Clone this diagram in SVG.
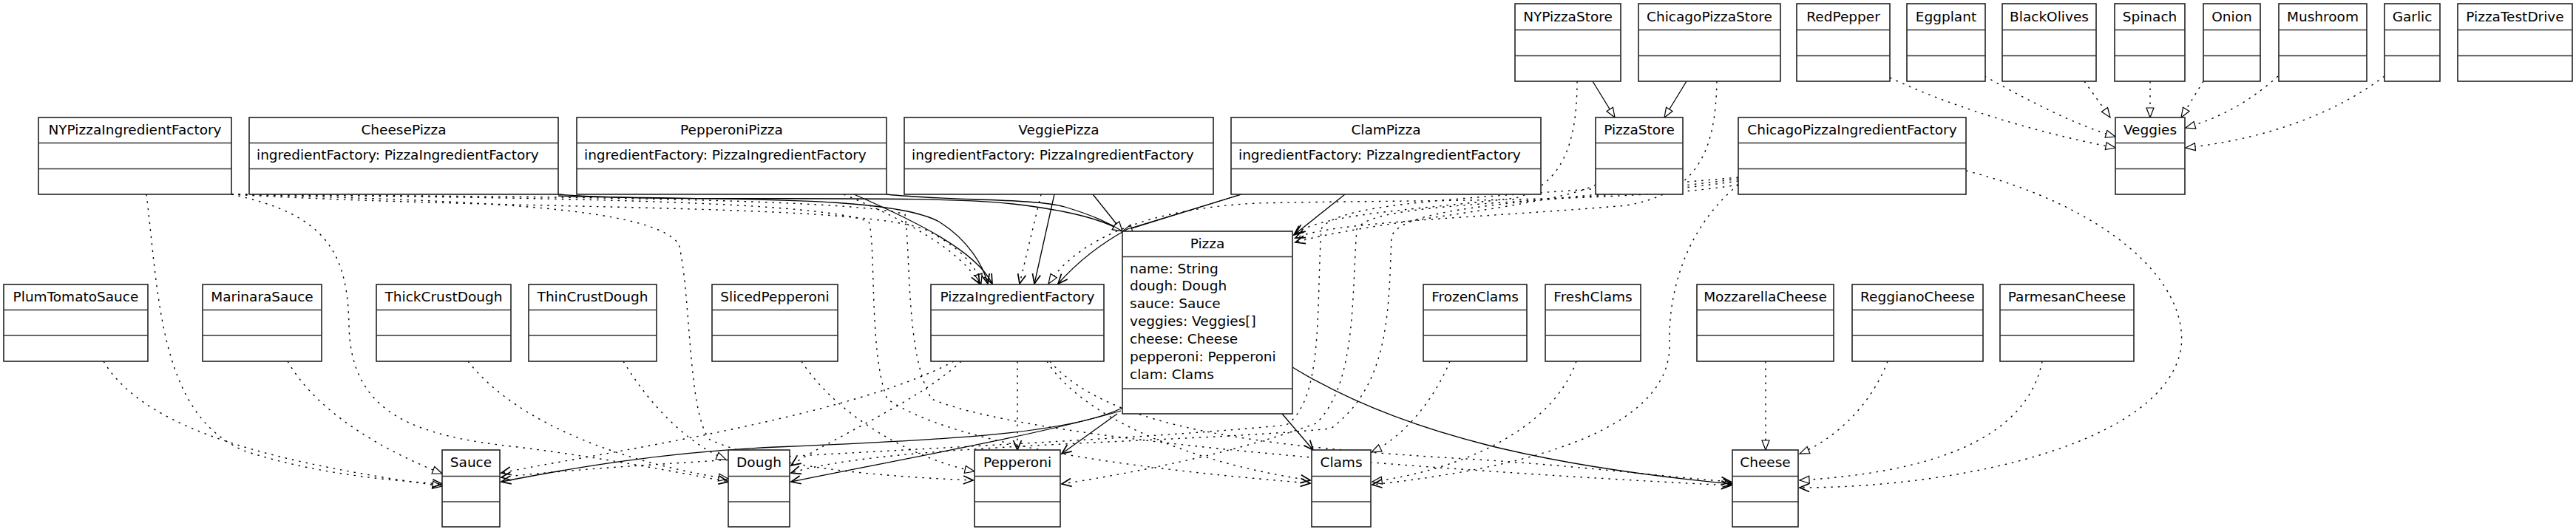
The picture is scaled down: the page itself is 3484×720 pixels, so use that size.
<svg xmlns="http://www.w3.org/2000/svg" width="3484" height="720" viewBox="0 0 3484 720">
<defs>
<style>
.box{fill:#fff;stroke:#222;stroke-width:1.6}
.dv{stroke:#333;stroke-width:1.6}
text{font-family:"DejaVu Sans",Verdana,sans-serif;font-size:18.5px;fill:#000}
.c{text-anchor:middle}
.sol{fill:none;stroke:#000;stroke-width:1.3}
.dot{fill:none;stroke:#000;stroke-width:1.4;stroke-dasharray:2.5 7}
.gen{marker-end:url(#tri)}
.arr{marker-end:url(#open)}
</style>
<marker id="tri" viewBox="0 0 14 12" refX="13" refY="6" markerWidth="14" markerHeight="12" orient="auto" markerUnits="userSpaceOnUse" style="overflow:visible"><path d="M0,1 L13,6 L0,11 z" fill="#fff" stroke="#000" stroke-width="1.2" stroke-dasharray="none"/></marker>
<marker id="open" viewBox="0 0 14 12" refX="13" refY="6" markerWidth="14" markerHeight="12" orient="auto" markerUnits="userSpaceOnUse" style="overflow:visible"><path d="M0,0.5 L13,6 L0,11.5" fill="none" stroke="#000" stroke-width="1.7" stroke-dasharray="none"/></marker>
</defs>
<rect width="3484" height="720" fill="#fff"/>

<g id="connectors">
<!-- generalizations -->
<path class="sol gen" d="M2154,110 L2184,159"/>
<path class="sol gen" d="M2281,110 L2251,159"/>
<path class="sol gen" d="M755,263 C900,275 1250,262 1370,276 C1440,284 1490,296 1518,313"/>
<path class="sol gen" d="M1199,263 C1280,272 1400,268 1440,280 C1480,292 1500,302 1518,313"/>
<path class="sol gen" d="M1478,263 L1518,313"/>
<path class="sol gen" d="M1679,263 L1518,313"/>
<!-- associations -->
<path class="sol arr" d="M755,265 C950,272 1200,262 1270,300 C1310,325 1330,360 1336,384"/>
<path class="sol arr" d="M1155,263 C1240,300 1320,340 1342,384"/>
<path class="sol arr" d="M1426,263 L1399,384"/>
<path class="sol arr" d="M1679,263 L1525,310 Q1470,340 1431,384"/>
<path class="sol arr" d="M1819,263 L1750,318"/>
<path class="sol arr" d="M1518,552 C1450,585 1300,595 1050,605 C900,612 780,632 678,652"/>
<path class="sol arr" d="M1516,556 C1400,590 1200,625 1070,652"/>
<path class="sol arr" d="M1511,560 L1436,614"/>
<path class="sol arr" d="M1734,560 L1776,609"/>
<path class="sol arr" d="M1748,497 C1900,590 2100,632 2343,655"/>
<!-- realizations -->
<path class="dot gen" d="M140,489 C200,590 400,630 598,658"/>
<path class="dot gen" d="M389,489 C430,560 520,610 598,641"/>
<path class="dot gen" d="M633,489 C700,575 850,628 985,648"/>
<path class="dot gen" d="M843,489 C880,550 930,600 982,622"/>
<path class="dot gen" d="M1084,489 C1130,560 1230,620 1318,638"/>
<path class="dot gen" d="M1961,489 C1940,540 1900,590 1855,612"/>
<path class="dot gen" d="M2132,489 C2100,580 1980,635 1856,652"/>
<path class="dot gen" d="M2388,489 L2388,609"/>
<path class="dot gen" d="M2553,489 C2530,550 2480,595 2434,614"/>
<path class="dot gen" d="M2762,489 C2740,600 2600,640 2434,650"/>
<path class="dot gen" d="M313,263 C700,285 1150,275 1250,310 C1300,335 1320,360 1327,384"/>
<path class="dot gen" d="M2351,250 C2200,275 1900,270 1700,275 C1560,282 1460,320 1418,384"/>
<path class="dot gen" d="M2556,105 C2650,150 2780,185 2861,200"/>
<path class="dot gen" d="M2684,103 C2750,140 2810,170 2861,185"/>
<path class="dot gen" d="M2819,110 L2854,159"/>
<path class="dot gen" d="M2908,110 L2908,159"/>
<path class="dot gen" d="M2980,110 L2950,159"/>
<path class="dot gen" d="M3081,103 C3040,140 3000,160 2956,173"/>
<path class="dot gen" d="M3225,103 C3150,160 3050,190 2956,200"/>
<!-- dependencies -->
<path class="dot arr" d="M198,263 C215,400 215,560 330,610 C420,640 520,650 598,655"/>
<path class="dot arr" d="M313,263 C440,290 470,340 472,440 C474,560 560,590 700,605 C820,620 920,640 985,652"/>
<path class="dot arr" d="M313,263 C650,272 880,280 918,330 C935,400 930,560 960,595 C1050,635 1200,645 1316,650"/>
<path class="dot arr" d="M313,263 C700,268 1100,270 1175,300 C1185,330 1175,480 1200,540 C1300,610 1600,640 1772,654"/>
<path class="dot arr" d="M313,263 C700,266 1150,268 1224,290 C1232,350 1225,480 1260,540 C1400,600 2000,640 2341,657"/>
<path class="dot arr" d="M1290,489 C1150,565 800,615 678,640"/>
<path class="dot arr" d="M1300,489 C1240,545 1120,595 1070,630"/>
<path class="dot arr" d="M1376,489 L1376,609"/>
<path class="dot arr" d="M1416,489 C1460,560 1600,625 1772,650"/>
<path class="dot arr" d="M1420,489 C1500,580 1700,605 2000,622 C2150,632 2250,645 2341,652"/>
<path class="dot arr" d="M2659,231 C2850,280 2960,380 2950,470 C2930,600 2650,660 2434,660"/>
<path class="dot arr" d="M2351,250 C2290,300 2255,380 2258,470 C2255,600 2000,640 1856,656"/>
<path class="dot arr" d="M2351,245 C2100,280 1860,270 1835,310 C1828,400 1835,520 1780,573 C1650,620 1500,645 1436,655"/>
<path class="dot arr" d="M2351,242 C2100,275 1900,275 1882,320 C1878,420 1880,520 1800,580 C1600,600 1200,600 1070,640"/>
<path class="dot arr" d="M2351,240 C2050,268 1810,268 1787,310 C1780,420 1790,540 1740,575 C1500,600 900,620 678,646"/>
<path class="dot arr" d="M2133,110 C2133,200 2110,250 2050,268 C1900,285 1790,290 1752,316"/>
<path class="dot arr" d="M2322,110 C2320,200 2300,260 2200,278 C2000,295 1800,300 1752,322"/>
<path class="dot arr" d="M2158,250 C2100,280 1850,300 1752,328"/>
<path class="dot arr" d="M1408,263 L1379,384"/>
<path class="dot arr" d="M1141,263 C1230,300 1300,340 1325,384"/>
</g>

<!-- top row -->
<g id="NYPizzaStore"><rect class="box" x="2049" y="5" width="143" height="105"/><line class="dv" x1="2049" y1="40.5" x2="2192" y2="40.5"/><line class="dv" x1="2049" y1="75.5" x2="2192" y2="75.5"/><text class="c" x="2120.5" y="29">NYPizzaStore</text></g>
<g id="ChicagoPizzaStore"><rect class="box" x="2216" y="5" width="192" height="105"/><line class="dv" x1="2216" y1="40.5" x2="2408" y2="40.5"/><line class="dv" x1="2216" y1="75.5" x2="2408" y2="75.5"/><text class="c" x="2312" y="29">ChicagoPizzaStore</text></g>
<g id="RedPepper"><rect class="box" x="2430" y="5" width="126" height="105"/><line class="dv" x1="2430" y1="40.5" x2="2556" y2="40.5"/><line class="dv" x1="2430" y1="75.5" x2="2556" y2="75.5"/><text class="c" x="2493" y="29">RedPepper</text></g>
<g id="Eggplant"><rect class="box" x="2579" y="5" width="106" height="105"/><line class="dv" x1="2579" y1="40.5" x2="2685" y2="40.5"/><line class="dv" x1="2579" y1="75.5" x2="2685" y2="75.5"/><text class="c" x="2632" y="29">Eggplant</text></g>
<g id="BlackOlives"><rect class="box" x="2708" y="5" width="127" height="105"/><line class="dv" x1="2708" y1="40.5" x2="2835" y2="40.5"/><line class="dv" x1="2708" y1="75.5" x2="2835" y2="75.5"/><text class="c" x="2771.5" y="29">BlackOlives</text></g>
<g id="Spinach"><rect class="box" x="2860" y="5" width="95" height="105"/><line class="dv" x1="2860" y1="40.5" x2="2955" y2="40.5"/><line class="dv" x1="2860" y1="75.5" x2="2955" y2="75.5"/><text class="c" x="2907.5" y="29">Spinach</text></g>
<g id="Onion"><rect class="box" x="2980" y="5" width="77" height="105"/><line class="dv" x1="2980" y1="40.5" x2="3057" y2="40.5"/><line class="dv" x1="2980" y1="75.5" x2="3057" y2="75.5"/><text class="c" x="3018.5" y="29">Onion</text></g>
<g id="Mushroom"><rect class="box" x="3082" y="5" width="119" height="105"/><line class="dv" x1="3082" y1="40.5" x2="3201" y2="40.5"/><line class="dv" x1="3082" y1="75.5" x2="3201" y2="75.5"/><text class="c" x="3141.5" y="29">Mushroom</text></g>
<g id="Garlic"><rect class="box" x="3225" y="5" width="75" height="105"/><line class="dv" x1="3225" y1="40.5" x2="3300" y2="40.5"/><line class="dv" x1="3225" y1="75.5" x2="3300" y2="75.5"/><text class="c" x="3262.5" y="29">Garlic</text></g>
<g id="PizzaTestDrive"><rect class="box" x="3324" y="5" width="155" height="105"/><line class="dv" x1="3324" y1="40.5" x2="3479" y2="40.5"/><line class="dv" x1="3324" y1="75.5" x2="3479" y2="75.5"/><text class="c" x="3401.5" y="29">PizzaTestDrive</text></g>

<!-- second row -->
<g id="NYPizzaIngredientFactory"><rect class="box" x="52" y="159" width="261" height="104"/><line class="dv" x1="52" y1="193.5" x2="313" y2="193.5"/><line class="dv" x1="52" y1="228.5" x2="313" y2="228.5"/><text class="c" x="182.5" y="182">NYPizzaIngredientFactory</text></g>
<g id="CheesePizza"><rect class="box" x="337" y="159" width="418" height="104"/><line class="dv" x1="337" y1="193.5" x2="755" y2="193.5"/><line class="dv" x1="337" y1="228.5" x2="755" y2="228.5"/><text class="c" x="546" y="182">CheesePizza</text><text x="347" y="216">ingredientFactory: PizzaIngredientFactory</text></g>
<g id="PepperoniPizza"><rect class="box" x="780" y="159" width="419" height="104"/><line class="dv" x1="780" y1="193.5" x2="1199" y2="193.5"/><line class="dv" x1="780" y1="228.5" x2="1199" y2="228.5"/><text class="c" x="989.5" y="182">PepperoniPizza</text><text x="790" y="216">ingredientFactory: PizzaIngredientFactory</text></g>
<g id="VeggiePizza"><rect class="box" x="1223" y="159" width="418" height="104"/><line class="dv" x1="1223" y1="193.5" x2="1641" y2="193.5"/><line class="dv" x1="1223" y1="228.5" x2="1641" y2="228.5"/><text class="c" x="1432" y="182">VeggiePizza</text><text x="1233" y="216">ingredientFactory: PizzaIngredientFactory</text></g>
<g id="ClamPizza"><rect class="box" x="1665" y="159" width="419" height="104"/><line class="dv" x1="1665" y1="193.5" x2="2084" y2="193.5"/><line class="dv" x1="1665" y1="228.5" x2="2084" y2="228.5"/><text class="c" x="1874.5" y="182">ClamPizza</text><text x="1675" y="216">ingredientFactory: PizzaIngredientFactory</text></g>
<g id="PizzaStore"><rect class="box" x="2158" y="159" width="118" height="104"/><line class="dv" x1="2158" y1="193.5" x2="2276" y2="193.5"/><line class="dv" x1="2158" y1="228.5" x2="2276" y2="228.5"/><text class="c" x="2217" y="182">PizzaStore</text></g>
<g id="ChicagoPizzaIngredientFactory"><rect class="box" x="2351" y="159" width="308" height="104"/><line class="dv" x1="2351" y1="193.5" x2="2659" y2="193.5"/><line class="dv" x1="2351" y1="228.5" x2="2659" y2="228.5"/><text class="c" x="2505" y="182">ChicagoPizzaIngredientFactory</text></g>
<g id="Veggies"><rect class="box" x="2861" y="159" width="94" height="104"/><line class="dv" x1="2861" y1="193.5" x2="2955" y2="193.5"/><line class="dv" x1="2861" y1="228.5" x2="2955" y2="228.5"/><text class="c" x="2908" y="182">Veggies</text></g>

<!-- Pizza -->
<g id="Pizza"><rect class="box" x="1518" y="313" width="230" height="247"/><line class="dv" x1="1518" y1="347.5" x2="1748" y2="347.5"/><line class="dv" x1="1518" y1="526" x2="1748" y2="526"/><text class="c" x="1633" y="336">Pizza</text>
<text x="1528" y="369.5">name: String</text>
<text x="1528" y="393.4">dough: Dough</text>
<text x="1528" y="417.3">sauce: Sauce</text>
<text x="1528" y="441.2">veggies: Veggies[]</text>
<text x="1528" y="465.1">cheese: Cheese</text>
<text x="1528" y="489">pepperoni: Pepperoni</text>
<text x="1528" y="512.9">clam: Clams</text></g>

<!-- third row -->
<g id="PlumTomatoSauce"><rect class="box" x="5" y="385" width="195" height="104"/><line class="dv" x1="5" y1="419.5" x2="200" y2="419.5"/><line class="dv" x1="5" y1="454" x2="200" y2="454"/><text class="c" x="102.5" y="408">PlumTomatoSauce</text></g>
<g id="MarinaraSauce"><rect class="box" x="274" y="385" width="161" height="104"/><line class="dv" x1="274" y1="419.5" x2="435" y2="419.5"/><line class="dv" x1="274" y1="454" x2="435" y2="454"/><text class="c" x="354.5" y="408">MarinaraSauce</text></g>
<g id="ThickCrustDough"><rect class="box" x="509" y="385" width="182" height="104"/><line class="dv" x1="509" y1="419.5" x2="691" y2="419.5"/><line class="dv" x1="509" y1="454" x2="691" y2="454"/><text class="c" x="600" y="408">ThickCrustDough</text></g>
<g id="ThinCrustDough"><rect class="box" x="715" y="385" width="173" height="104"/><line class="dv" x1="715" y1="419.5" x2="888" y2="419.5"/><line class="dv" x1="715" y1="454" x2="888" y2="454"/><text class="c" x="801.5" y="408">ThinCrustDough</text></g>
<g id="SlicedPepperoni"><rect class="box" x="963" y="385" width="170" height="104"/><line class="dv" x1="963" y1="419.5" x2="1133" y2="419.5"/><line class="dv" x1="963" y1="454" x2="1133" y2="454"/><text class="c" x="1048" y="408">SlicedPepperoni</text></g>
<g id="PizzaIngredientFactory"><rect class="box" x="1259" y="385" width="234" height="104"/><line class="dv" x1="1259" y1="419.5" x2="1493" y2="419.5"/><line class="dv" x1="1259" y1="454" x2="1493" y2="454"/><text class="c" x="1376" y="408">PizzaIngredientFactory</text></g>
<g id="FrozenClams"><rect class="box" x="1925" y="385" width="140" height="104"/><line class="dv" x1="1925" y1="419.5" x2="2065" y2="419.5"/><line class="dv" x1="1925" y1="454" x2="2065" y2="454"/><text class="c" x="1995" y="408">FrozenClams</text></g>
<g id="FreshClams"><rect class="box" x="2090" y="385" width="129" height="104"/><line class="dv" x1="2090" y1="419.5" x2="2219" y2="419.5"/><line class="dv" x1="2090" y1="454" x2="2219" y2="454"/><text class="c" x="2154.5" y="408">FreshClams</text></g>
<g id="MozzarellaCheese"><rect class="box" x="2295" y="385" width="185" height="104"/><line class="dv" x1="2295" y1="419.5" x2="2480" y2="419.5"/><line class="dv" x1="2295" y1="454" x2="2480" y2="454"/><text class="c" x="2387.5" y="408">MozzarellaCheese</text></g>
<g id="ReggianoCheese"><rect class="box" x="2505" y="385" width="177" height="104"/><line class="dv" x1="2505" y1="419.5" x2="2682" y2="419.5"/><line class="dv" x1="2505" y1="454" x2="2682" y2="454"/><text class="c" x="2593.5" y="408">ReggianoCheese</text></g>
<g id="ParmesanCheese"><rect class="box" x="2705" y="385" width="181" height="104"/><line class="dv" x1="2705" y1="419.5" x2="2886" y2="419.5"/><line class="dv" x1="2705" y1="454" x2="2886" y2="454"/><text class="c" x="2795.5" y="408">ParmesanCheese</text></g>

<!-- bottom row -->
<g id="Sauce"><rect class="box" x="598" y="609" width="78" height="104"/><line class="dv" x1="598" y1="644.5" x2="676" y2="644.5"/><line class="dv" x1="598" y1="679" x2="676" y2="679"/><text class="c" x="637" y="632">Sauce</text></g>
<g id="Dough"><rect class="box" x="985" y="609" width="83" height="104"/><line class="dv" x1="985" y1="644.5" x2="1068" y2="644.5"/><line class="dv" x1="985" y1="679" x2="1068" y2="679"/><text class="c" x="1026.5" y="632">Dough</text></g>
<g id="Pepperoni"><rect class="box" x="1318" y="609" width="116" height="104"/><line class="dv" x1="1318" y1="644.5" x2="1434" y2="644.5"/><line class="dv" x1="1318" y1="679" x2="1434" y2="679"/><text class="c" x="1376" y="632">Pepperoni</text></g>
<g id="Clams"><rect class="box" x="1774" y="609" width="80" height="104"/><line class="dv" x1="1774" y1="644.5" x2="1854" y2="644.5"/><line class="dv" x1="1774" y1="679" x2="1854" y2="679"/><text class="c" x="1814" y="632">Clams</text></g>
<g id="Cheese"><rect class="box" x="2343" y="609" width="89" height="104"/><line class="dv" x1="2343" y1="644.5" x2="2432" y2="644.5"/><line class="dv" x1="2343" y1="679" x2="2432" y2="679"/><text class="c" x="2387.5" y="632">Cheese</text></g>
</svg>
